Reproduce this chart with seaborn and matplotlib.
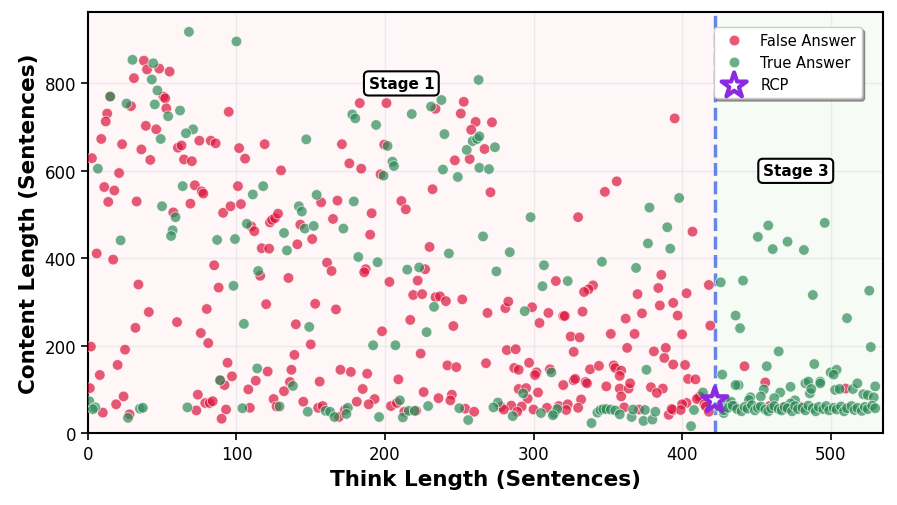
import matplotlib.pyplot as plt
import pandas as pd
import seaborn as sns

# False-answer samples (think length, content length)
false_pts = [
    (37.7, 852), (39.8, 832), (48, 834), (55, 827), (31, 812), (15, 770), (50.8, 770), (52, 766),
    (29, 748), (52.8, 743), (94.8, 735), (13, 731), (12, 713), (39, 703), (46, 695), (9, 673),
    (23, 661), (75, 669), (82.7, 669), (86, 663), (60.6, 653), (63, 658), (36, 649), (101.8, 652),
    (119, 661), (183, 755), (201, 755), (234, 742), (253, 758), (251, 731), (261, 712), (258, 694),
    (171, 661), (199.5, 660), (272, 711), (267, 650), (395, 720),
    (2.7, 629), (42, 625), (64.7, 626), (70, 622), (105.8, 628), (21, 595), (130, 601), (11, 563),
    (17.8, 555), (13.7, 529), (32.8, 530), (72, 567), (76.6, 553), (77.7, 548), (69, 525), (57.5, 505),
    (5.9, 411), (17, 397), (34, 340), (91, 504), (96, 519), (101, 565), (103, 524), (110, 473),
    (112, 462), (122.6, 482), (124, 488), (126, 492), (128, 502), (117, 423), (122, 422), (85, 384),
    (116, 360), (88, 333),
    (176, 617), (184, 605), (197, 592), (247, 624), (257, 627), (232, 558), (157, 528), (168, 532),
    (211, 531), (214, 512), (191, 503), (165, 490), (143, 477), (190, 454), (151, 444), (141, 432),
    (230, 426), (161, 390), (164, 371), (187, 375), (186, 368), (227, 375), (135, 355), (203, 346),
    (222, 349), (219, 316), (225, 318), (234, 311), (237, 313), (241, 302), (252, 306),
    (271, 551), (330, 494), (348, 552), (356, 576), (386, 362), (315, 348), (384, 332), (340, 338),
    (337, 329), (334, 323), (370, 318), (407, 461), (418, 339), (403, 320),
    (120, 295), (41, 277), (60, 254), (80, 284), (32, 241), (76, 229), (81, 206), (2, 198), (25, 191),
    (94, 161), (20, 156), (97, 130), (8, 133), (121, 141), (113, 120), (89, 121), (92, 110), (1.3, 103),
    (108, 100), (132, 96), (24, 84), (74, 88), (125, 78), (19, 66), (10, 47), (28, 43), (73, 52),
    (79, 69), (82, 69), (84, 73), (93, 54), (90, 33), (109, 58), (127, 61),
    (153, 296), (167, 283), (140, 249), (150, 203), (139, 179), (137, 145), (136, 117), (156, 118),
    (170, 145), (177, 140), (188, 136), (185, 101), (181, 72), (193, 78), (189, 66), (145, 72),
    (155, 58), (158, 62), (169, 37), (173, 53), (198, 233), (217, 259), (246, 245), (224, 182),
    (242, 155), (248, 151), (209, 123), (226, 94), (236, 80), (245, 88), (244, 75), (204, 62),
    (208, 69), (213, 49), (221, 51), (254, 56), (260, 49),
    (269, 275), (281, 286), (283, 301), (299, 288), (310, 275), (304, 252), (320, 268), (321, 268),
    (333, 278), (385, 292), (394, 298), (373, 274), (362, 262), (352, 227), (368, 227), (325, 221),
    (331, 219), (327, 186), (282, 190), (288, 192), (363, 195), (381, 187), (389, 195), (388, 172),
    (394, 157), (268, 160), (287, 149), (290, 145), (297, 161), (302, 139), (301, 133), (311, 146),
    (338, 146), (344, 154), (354, 155), (355, 149), (359, 143), (358, 131), (320, 110), (327, 121),
    (328, 124), (335, 117), (336, 114), (349, 107), (358, 102), (364, 102), (365, 114), (379, 105),
    (387, 102), (383, 92), (359, 84), (290, 101), (295, 103), (296, 79), (303, 93), (332, 77),
    (285, 63), (292, 61), (289, 49), (278, 60), (280, 54), (300, 54), (309, 58), (317, 62), (323, 66),
    (322, 53), (330, 58), (361, 59), (371, 54), (391, 42), (394, 53),
    (397, 269), (419, 246), (400, 226), (402, 156), (404, 124), (409, 123), (442, 153), (456, 116),
    (510, 102), (411, 82), (412, 84), (410, 78), (415, 66), (416, 61), (418, 49), (403, 69), (400, 66),
    (399, 53), (393, 55), (459, 62), (468, 59), (480, 60),
]

# True-answer samples
true_pts = [
    (68, 918), (100, 896), (30, 854), (44, 846), (43, 809), (46.8, 784), (15, 770), (26, 754),
    (45, 752), (62, 738), (54, 725), (70.8, 695), (66, 686), (49, 673),
    (263, 808), (238, 762), (231, 747), (178, 729), (180, 720), (218, 730), (194, 705), (240, 684),
    (259, 668), (262, 673), (263.5, 679), (255, 648), (147, 672), (201.7, 657), (274, 654),
    (6.7, 605), (63.8, 565), (49.9, 519), (59, 494), (57, 464), (56, 451), (22, 441), (111, 546),
    (118, 565), (107, 479), (132, 458), (87, 442), (99, 444), (114.6, 371), (98, 337),
    (205, 621), (206, 611), (199, 589), (239, 603), (249, 586), (263.5, 607), (154, 545), (179, 530),
    (142, 519), (144, 507), (146, 468), (152, 474), (172, 468), (243, 411), (134, 418), (182, 403),
    (195, 391), (215, 374), (223, 379),
    (270, 604), (298, 494), (378, 516), (390, 471), (377, 434), (392, 422), (266, 450), (284, 414),
    (275, 370), (307, 384), (346, 392), (369, 378), (306, 336), (323, 348),
    (398, 538), (426, 345), (441, 349), (451, 449), (458, 475), (461, 421), (471, 438), (482, 419),
    (496, 481), (488, 316), (526, 326),
    (105, 250), (114, 148), (89, 121), (1, 73), (5, 59), (3.4, 55), (27, 35), (35, 56), (37, 58),
    (67, 59), (104, 57), (129, 61),
    (149, 243), (138, 108), (148, 49), (160, 51), (163, 49), (166, 37), (175, 58), (174, 44), (196, 37),
    (192, 201), (207, 201), (233, 289), (228, 231), (210, 75), (212, 36), (216, 51), (220, 51),
    (229, 62), (250, 57), (256, 30),
    (294, 279), (312, 139), (376, 145), (293, 91), (276, 70), (273, 59), (286, 39), (305, 46),
    (314, 45), (316, 55), (313, 41), (339, 23), (343, 47), (345, 53), (347, 55), (349, 55), (352, 54),
    (355, 52), (358, 43), (366, 37), (367, 54), (374, 28), (375, 53), (380, 31), (382, 49),
    (436, 269), (439, 240), (511, 263), (527, 197), (465, 187), (457, 153), (489, 158), (427, 134),
    (438, 110), (436, 110), (500, 139), (504, 145), (502, 134), (455, 100), (453, 84), (446, 82),
    (445, 76), (473, 106), (466, 93), (462, 80), (483, 114), (485, 118), (493, 118), (493, 114),
    (486, 91), (487, 101), (503, 99), (506, 101), (515, 101), (518, 114), (522, 89), (525, 87),
    (530, 107), (529, 82), (476, 75), (473, 68), (414, 93), (430, 70), (433, 72), (435, 62),
    (428, 46), (408, 53), (406, 16),
    (425, 60), (428, 52), (431, 58), (434, 63), (437, 55), (440, 50), (442, 60), (444, 56), (447, 64),
    (449, 52), (451, 58), (453, 61), (456, 54), (458, 50), (460, 57), (462, 62), (465, 55), (467, 52),
    (469, 60), (471, 57), (474, 50), (476, 62), (478, 55), (481, 58), (483, 52), (485, 63), (488, 57),
    (490, 50), (492, 60), (495, 55), (497, 62), (499, 52), (502, 58), (504, 54), (507, 61), (509, 50),
    (511, 57), (514, 62), (516, 53), (518, 58), (521, 51), (523, 60), (525, 55), (528, 63), (530, 57),
]

rcp_x, rcp_y = 422, 75
stage_labels = ["Stage 1", "Stage 3"]
stage_y = [800, 600]

if __name__ == "__main__":
    sns.set_style("whitegrid")
    plt.rcParams["font.family"] = ["DejaVu Sans"]
    plt.rcParams["text.color"] = "black"
    plt.rcParams["axes.labelcolor"] = "black"
    plt.rcParams["xtick.color"] = "black"
    plt.rcParams["ytick.color"] = "black"

    rows = [(x, y, "False Answer") for x, y in false_pts] + \
           [(x, y, "True Answer") for x, y in true_pts]
    df = pd.DataFrame(rows, columns=["think", "content", "label"])

    fig, ax = plt.subplots(figsize=(8.97, 5.06), dpi=100)
    fig.subplots_adjust(left=0.098, right=0.984, top=0.974, bottom=0.142)

    xmax, ymax = 535, 963
    ax.axvspan(0, rcp_x, color="#ffe4e8", alpha=0.3, zorder=0, lw=0)
    ax.axvspan(rcp_x, xmax, color="#e2f5e4", alpha=0.3, zorder=0, lw=0)

    sns.scatterplot(data=df, x="think", y="content", hue="label",
                    palette={"False Answer": "#DC143C", "True Answer": "#2E8B57"},
                    alpha=0.7, s=58, edgecolor="white", linewidth=0.6, ax=ax, zorder=3)

    ax.axvline(rcp_x, color="#4169E1", ls="--", lw=2.5, alpha=0.8, zorder=2)
    ax.scatter([rcp_x], [rcp_y], marker="*", s=360, facecolors="none",
               edgecolors="#8A2BE2", linewidths=3, zorder=5, label="RCP")

    box = dict(boxstyle="round,pad=0.3", fc="white", ec="black", lw=1.5)
    ax.text(rcp_x / 2, stage_y[0], stage_labels[0], ha="center", va="center",
            fontsize=11, fontweight="bold", bbox=box, zorder=6)
    ax.text((rcp_x + xmax) / 2 - 2, stage_y[1], stage_labels[1], ha="center", va="center",
            fontsize=11, fontweight="bold", bbox=box, zorder=6)

    ax.set_xlim(0, xmax)
    ax.set_ylim(0, ymax)
    ax.set_xticks([0, 100, 200, 300, 400, 500])
    ax.set_yticks([0, 200, 400, 600, 800])
    ax.tick_params(labelsize=12, length=5, width=1.2, bottom=True, left=True)
    ax.grid(True, color="#e6e6e6", lw=1, alpha=0.8)
    for s in ax.spines.values():
        s.set_edgecolor("black")
        s.set_linewidth(1.5)
    ax.set_xlabel("Think Length (Sentences)", fontsize=15.5, fontweight="bold")
    ax.set_ylabel("Content Length (Sentences)", fontsize=15.5, fontweight="bold")

    handles, labels = ax.get_legend_handles_labels()
    ax.legend(handles, labels, loc="upper right", bbox_to_anchor=(0.983, 0.982),
              fontsize=10.5, frameon=True, shadow=True, fancybox=True, framealpha=1,
              edgecolor="#cccccc")

    plt.savefig("out.png", dpi=100)
